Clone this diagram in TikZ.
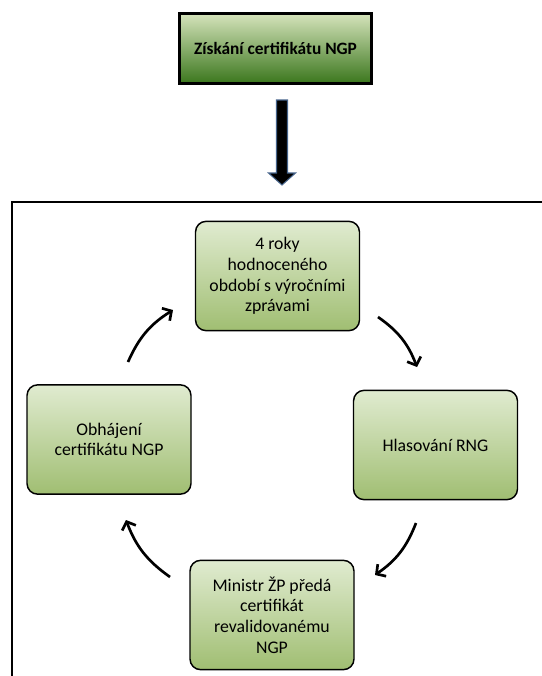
\documentclass[tikz,border=0pt]{standalone}
\usepackage{fontspec}
\setmainfont{Carlito}
\usetikzlibrary{arrows.meta}

\definecolor{headtop}{RGB}{214,228,188}
\definecolor{headbot}{RGB}{58,118,28}
\definecolor{boxtop}{RGB}{224,235,208}
\definecolor{boxbot}{RGB}{160,190,114}
\definecolor{arrowrim}{RGB}{70,100,140}

\begin{document}
\begin{tikzpicture}[
    x=0.75pt, y=-0.75pt,
    headbox/.style={rectangle, draw, line width=2.2pt, top color=headtop, bottom color=headbot, minimum width=144pt, minimum height=53pt, inner sep=0pt, font=\fontsize{13}{15}\selectfont\bfseries},
    cycbox/.style={rectangle, draw, line width=1.1pt, rounded corners=8pt, top color=boxtop, bottom color=boxbot, minimum width=123pt, minimum height=82pt, align=center, font=\fontsize{13.3}{15.6}\selectfont},
    bigarrow/.style={fill=black, draw=arrowrim, line width=0.8pt},
    frame/.style={line width=1.5pt},
    cycarrow/.style={-{Straight Barb[length=5pt,width=11pt,line width=2pt]}, line width=2pt, bend left=17}
]
    \useasboundingbox (0,0) rectangle (542,676);

    % Top box and the arrow below it
    \node[headbox] (ziskani) at (275.5,48.5) {Získání certifikátu NGP};
    \coordinate (arrtop) at (282,100);
    \draw[bigarrow] (arrtop) ++(-5.5,0) -- ++(0,73) -- ++(-8,0) -- ++(13.5,12) -- ++(13.5,-12) -- ++(-8,0) -- ++(0,-73) -- cycle;

    % Frame (open at right and bottom)
    \draw[frame] (542,202) -- (12,202) -- (12,676);

    % Cycle
    \node[cycbox] (obdobi) at (277.5,276) {4 roky\\hodnoceného\\období s výročními\\zprávami};
    \node[cycbox] (hlasovani) at (435.5,445) {Hlasování RNG};
    \node[cycbox] (ministr) at (272,615) {Ministr ŽP předá\\certifikát\\revalidovanému\\NGP};
    \node[cycbox] (obhajeni) at (109,439.5) {Obhájení\\certifikátu NGP};

    % Arrow ends
    \coordinate (a1s) at (128,362); \coordinate (a1e) at (173,310);
    \coordinate (a2s) at (378,317); \coordinate (a2e) at (417,367);
    \coordinate (a3s) at (416,523); \coordinate (a3e) at (375,575);
    \coordinate (a4s) at (170,577); \coordinate (a4e) at (126,520);

    \draw[cycarrow] (a1s) to (a1e);
    \draw[cycarrow] (a2s) to (a2e);
    \draw[cycarrow] (a3s) to (a3e);
    \draw[cycarrow] (a4s) to (a4e);
\end{tikzpicture}
\end{document}
